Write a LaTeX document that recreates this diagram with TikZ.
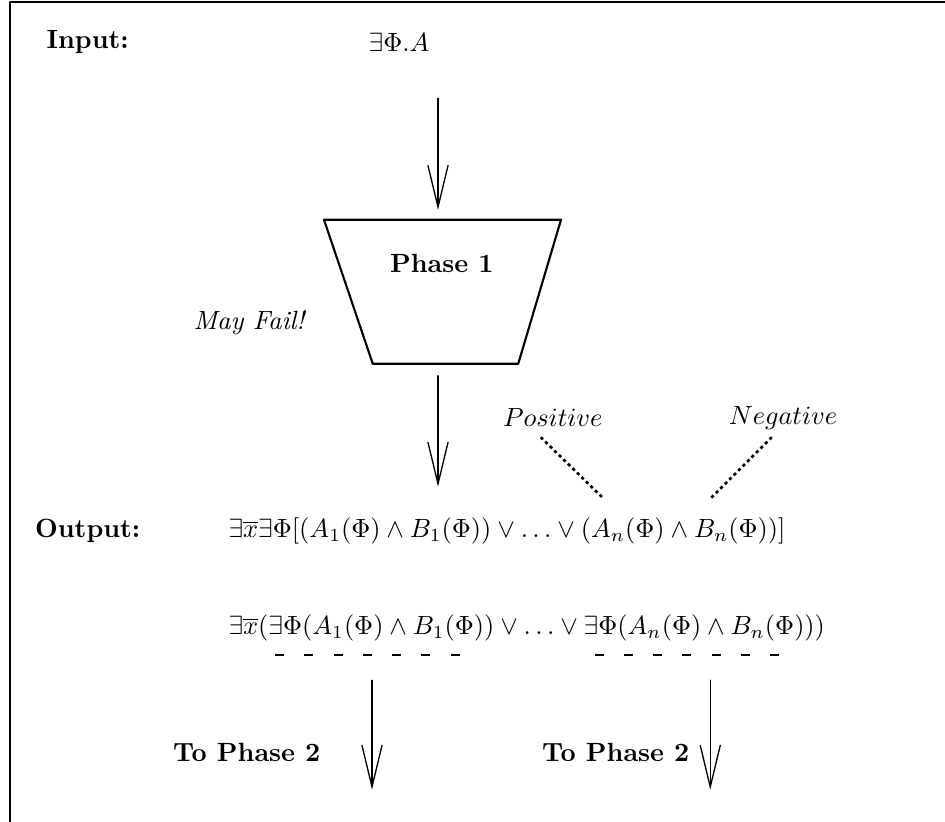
\documentclass[tikz,border=0pt]{standalone}
\usetikzlibrary{arrows.meta}
\tikzset{
    tag/.style={
        font=\bfseries
    },
    vec/.style={
        -{Straight Barb[length=0.56cm,width=0.27cm]}, line width=0.5pt
    },
    dotline/.style={
        line width=1pt, dash pattern=on 1.2pt off 1.2pt, line cap=butt
    },
    marks/.style={
        line width=0.9pt, dash pattern=on 0.12cm off 0.27cm, line cap=butt
    }
}

\begin{document}
\begin{tikzpicture}[line cap=round,line join=round]

% page size
    \useasboundingbox (0,0) rectangle (12.6,10.96);

% frame (only top and left side show)
    \draw[line width=0.8pt] (0.13,0) -- (0.13,10.93) -- (12.6,10.93);

% --- geometry ---
    \coordinate (tl) at (4.32,8.03);     % phase 1 box, top left
    \coordinate (tr) at (7.48,8.03);     % top right
    \coordinate (br) at (6.91,6.11);     % bottom right
    \coordinate (bl) at (4.97,6.11);     % bottom left

% input
    \node[tag] (inlab) at (1.17,10.40) {Input:};
    \node (inform) at (5.32,10.40) {$\exists\Phi.A$};

% phase 1 box
    \draw[line width=0.8pt] (tl) -- (tr) -- (br) -- (bl) -- cycle;
    \node[tag] (p1lab) at (5.89,7.45) {Phase 1};
    \node[font=\itshape] (fail) at (3.32,6.65) {May Fail!};

% arrows into and out of phase 1
    \coordinate (a1s) at (5.84,9.65);
    \coordinate (a1e) at (5.84,8.16);
    \coordinate (a2s) at (5.84,5.95);
    \coordinate (a2e) at (5.84,4.47);
    \draw[vec] (a1s) -- (a1e);
    \draw[vec] (a2s) -- (a2e);

% positive / negative
    \node (pos) at (7.37,5.39) {$Positive$};
    \node (neg) at (10.44,5.39) {$Negative$};
    \coordinate (posA) at (7.21,5.13);
    \coordinate (posB) at (8.04,4.32);
    \coordinate (negA) at (10.29,5.13);
    \coordinate (negB) at (9.48,4.32);
    \draw[dotline] (posA) -- (posB);
    \draw[dotline] (negA) -- (negB);

% output
    \node[tag] (outlab) at (1.17,3.88) {Output:};
    \node[anchor=west, inner sep=0pt] (outform) at (3.04,3.88)
        {$\exists\overline{x}\exists\Phi[(A_1(\Phi)\wedge B_1(\Phi))\vee\ldots\vee(A_n(\Phi)\wedge B_n(\Phi))]$};
    \node[anchor=west, inner sep=0pt] (splitform) at (3.04,2.59)
        {$\exists\overline{x}(\exists\Phi(A_1(\Phi)\wedge B_1(\Phi))\vee\ldots\vee\exists\Phi(A_n(\Phi)\wedge B_n(\Phi)))$};

% underline marks
    \draw[marks] (3.67,2.23) -- (6.13,2.23);
    \draw[marks] (7.93,2.23) -- (10.39,2.23);

% to phase 2
    \coordinate (b1s) at (4.96,1.89);
    \coordinate (b1e) at (4.96,0.43);
    \coordinate (b2s) at (9.47,1.89);
    \coordinate (b2e) at (9.47,0.43);
    \draw[vec] (b1s) -- (b1e);
    \draw[vec] (b2s) -- (b2e);
    \node[tag] (to1) at (3.29,0.93) {To Phase 2};
    \node[tag] (to2) at (8.21,0.93) {To Phase 2};

\end{tikzpicture}
\end{document}
